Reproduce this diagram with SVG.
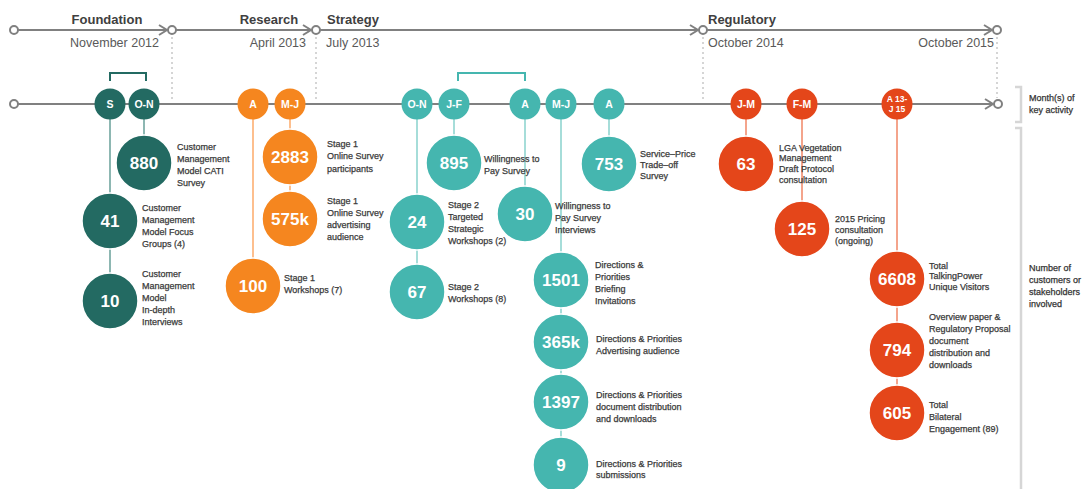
<svg xmlns="http://www.w3.org/2000/svg" width="1083" height="489" viewBox="0 0 1083 489">
  <style>
    text { font-family: "Liberation Sans", Arial, sans-serif; }
    .phase { font-size: 13px; font-weight: bold; fill: #404040; }
    .date { font-size: 12.5px; fill: #595959; }
    .side { font-size: 9px; fill: #333; stroke: #333; stroke-width: 0.25; }
    .lbl { font-size: 9px; fill: #3a3a3a; stroke: #3a3a3a; stroke-width: 0.25; }
    .num { font-size: 17px; font-weight: bold; fill: #fff; text-anchor: middle; }
    .mon { font-size: 10.5px; font-weight: bold; fill: #fff; text-anchor: middle; }
    .axis { stroke: #808080; stroke-width: 2; fill: none; }
    .end { fill: #fff; stroke: #808080; stroke-width: 2; }
    .dots { stroke: #c8c8c8; stroke-width: 1.5; stroke-dasharray: 2 3; fill: none; }
    .brace { stroke: #d6d6d6; stroke-width: 2.5; fill: none; }
    .stem { stroke-width: 2; fill: none; }
    .c-dark { fill: #236a62; }
    .c-orange { fill: #f5861f; }
    .c-teal { fill: #45b6af; }
    .c-red { fill: #e4461a; }
    .big { stroke: #fff; stroke-width: 1.5; }
  </style>
  <defs>
    <marker id="chev" markerUnits="userSpaceOnUse" markerWidth="12" markerHeight="12" refX="9" refY="6" orient="auto">
      <path d="M1,1 L9,6 L1,11" fill="none" stroke="#808080" stroke-width="2"/>
    </marker>
  </defs>

  <rect width="1083" height="489" fill="#fff"/>

  <!-- phase timeline -->
  <g id="phases">
    <line class="axis" x1="18" y1="30" x2="167" y2="30" marker-end="url(#chev)"/>
    <line class="axis" x1="176" y1="30" x2="311" y2="30" marker-end="url(#chev)"/>
    <line class="axis" x1="320" y1="30" x2="698" y2="30" marker-end="url(#chev)"/>
    <line class="axis" x1="707" y1="30" x2="992" y2="30" marker-end="url(#chev)"/>
    <circle class="end" cx="14" cy="30" r="4"/>
    <circle class="end" cx="172" cy="30" r="4"/>
    <circle class="end" cx="316" cy="30" r="4"/>
    <circle class="end" cx="703" cy="30" r="4"/>
    <circle class="end" cx="997" cy="30" r="4"/>
    <line class="dots" x1="172" y1="37" x2="172" y2="102"/>
    <line class="dots" x1="316" y1="37" x2="316" y2="102"/>
    <line class="dots" x1="703" y1="37" x2="703" y2="102"/>
    <line class="dots" x1="997" y1="37" x2="997" y2="98"/>
    <text class="phase" x="107" y="24" text-anchor="middle">Foundation</text>
    <text class="phase" x="269" y="24" text-anchor="middle">Research</text>
    <text class="phase" x="327" y="24">Strategy</text>
    <text class="phase" x="708" y="24">Regulatory</text>
    <text class="date" x="159" y="47" text-anchor="end">November 2012</text>
    <text class="date" x="306" y="47" text-anchor="end">April 2013</text>
    <text class="date" x="326" y="47">July 2013</text>
    <text class="date" x="708" y="47">October 2014</text>
    <text class="date" x="994" y="47" text-anchor="end">October 2015</text>
  </g>

  <!-- activity timeline -->
  <g id="activity-axis">
    <line class="axis" x1="18" y1="104" x2="993" y2="104" marker-end="url(#chev)"/>
    <circle class="end" cx="14" cy="104" r="4"/>
    <circle class="end" cx="998" cy="104" r="4"/>
  </g>

  <!-- side legend -->
  <g id="legend">
    <path class="brace" d="M1015,87 H1021 V122 H1015"/>
    <path class="brace" d="M1015,128 H1021 V489"/>
    <text class="side" x="1029" y="101">Month(s) of</text>
    <text class="side" x="1029" y="113">key activity</text>
    <text class="side" x="1029" y="270.5">Number of</text>
    <text class="side" x="1029" y="282.5">customers or</text>
    <text class="side" x="1029" y="295">stakeholders</text>
    <text class="side" x="1029" y="306.5">involved</text>
  </g>

  <!-- connectors: stems and grouping brackets -->
  <g id="connectors">
    <line class="stem" stroke="#8db7b2" x1="110" y1="104" x2="110" y2="301"/>
    <line class="stem" stroke="#8db7b2" x1="144" y1="104" x2="144" y2="163"/>
    <line class="stem" stroke="#fdbf8e" x1="253" y1="104" x2="253" y2="286"/>
    <line class="stem" stroke="#fdbf8e" x1="290" y1="104" x2="290" y2="219"/>
    <line class="stem" stroke="#a6ddd9" x1="417" y1="104" x2="417" y2="292"/>
    <line class="stem" stroke="#a6ddd9" x1="454" y1="104" x2="454" y2="163"/>
    <line class="stem" stroke="#a6ddd9" x1="525" y1="104" x2="525" y2="214"/>
    <line class="stem" stroke="#a6ddd9" x1="561" y1="104" x2="561" y2="465"/>
    <line class="stem" stroke="#a6ddd9" x1="609" y1="104" x2="609" y2="164"/>
    <line class="stem" stroke="#f4a48c" x1="746" y1="104" x2="746" y2="164"/>
    <line class="stem" stroke="#f4a48c" x1="802" y1="104" x2="802" y2="229"/>
    <line class="stem" stroke="#f4a48c" x1="897" y1="104" x2="897" y2="413"/>
    <path d="M110,81 V73 H146 V81" fill="none" stroke="#236a62" stroke-width="2"/>
    <path d="M458,81 V73 H525 V81" fill="none" stroke="#45b6af" stroke-width="2"/>
  </g>

  <!-- month markers -->
  <g id="m-s"><circle class="c-dark" cx="110" cy="104" r="15.5"/><text class="mon" x="110" y="108">S</text></g>
  <g id="m-on-2012"><circle class="c-dark" cx="144" cy="104" r="15.5"/><text class="mon" x="144" y="108">O-N</text></g>
  <g id="m-a-2013"><circle class="c-orange" cx="253" cy="104" r="15.5"/><text class="mon" x="253" y="108">A</text></g>
  <g id="m-mj-2013"><circle class="c-orange" cx="290" cy="104" r="15.5"/><text class="mon" x="290" y="108">M-J</text></g>
  <g id="m-on-2013"><circle class="c-teal" cx="417" cy="104" r="15.5"/><text class="mon" x="417" y="108">O-N</text></g>
  <g id="m-jf-2014"><circle class="c-teal" cx="454" cy="104" r="15.5"/><text class="mon" x="454" y="108">J-F</text></g>
  <g id="m-a-2014"><circle class="c-teal" cx="525" cy="104" r="15.5"/><text class="mon" x="525" y="108">A</text></g>
  <g id="m-mj-2014"><circle class="c-teal" cx="561" cy="104" r="15.5"/><text class="mon" x="561" y="108">M-J</text></g>
  <g id="m-a2-2014"><circle class="c-teal" cx="609" cy="104" r="15.5"/><text class="mon" x="609" y="108">A</text></g>
  <g id="m-jm-2015"><circle class="c-red" cx="746" cy="104" r="15.5"/><text class="mon" x="746" y="108">J-M</text></g>
  <g id="m-fm-2015"><circle class="c-red" cx="802" cy="104" r="15.5"/><text class="mon" x="802" y="108">F-M</text></g>
  <g id="m-a13-j15"><circle class="c-red" cx="897" cy="104" r="15.5"/><text class="mon" x="897" y="102" style="font-size:8.5px">A 13-</text><text class="mon" x="897" y="112" style="font-size:8.5px">J 15</text></g>

  <!-- engagement counts -->
  <g id="n-880">
    <circle class="c-dark big" cx="144" cy="163" r="28"/><text class="num" x="144" y="169">880</text>
    <text class="lbl" x="177" y="149.5"><tspan x="177">Customer</tspan><tspan x="177" dy="12">Management</tspan><tspan x="177" dy="12">Model CATI</tspan><tspan x="177" dy="12">Survey</tspan></text>
  </g>
  <g id="n-41">
    <circle class="c-dark big" cx="110" cy="221" r="28"/><text class="num" x="110" y="227">41</text>
    <text class="lbl" x="142" y="210.5"><tspan x="142">Customer</tspan><tspan x="142" dy="12">Management</tspan><tspan x="142" dy="12">Model Focus</tspan><tspan x="142" dy="12">Groups (4)</tspan></text>
  </g>
  <g id="n-10">
    <circle class="c-dark big" cx="110" cy="301" r="28"/><text class="num" x="110" y="307">10</text>
    <text class="lbl" x="142" y="276.5"><tspan x="142">Customer</tspan><tspan x="142" dy="12">Management</tspan><tspan x="142" dy="12">Model</tspan><tspan x="142" dy="12">In-depth</tspan><tspan x="142" dy="12">Interviews</tspan></text>
  </g>
  <g id="n-2883">
    <circle class="c-orange big" cx="290" cy="157" r="28"/><text class="num" x="290" y="163">2883</text>
    <text class="lbl" x="327" y="146.5"><tspan x="327">Stage 1</tspan><tspan x="327" dy="12.5">Online Survey</tspan><tspan x="327" dy="12.5">participants</tspan></text>
  </g>
  <g id="n-575k">
    <circle class="c-orange big" cx="290" cy="219" r="28"/><text class="num" x="290" y="225">575k</text>
    <text class="lbl" x="327" y="203.5"><tspan x="327">Stage 1</tspan><tspan x="327" dy="12">Online Survey</tspan><tspan x="327" dy="12">advertising</tspan><tspan x="327" dy="12">audience</tspan></text>
  </g>
  <g id="n-100">
    <circle class="c-orange big" cx="253" cy="286" r="28"/><text class="num" x="253" y="292">100</text>
    <text class="lbl" x="284" y="280.5"><tspan x="284">Stage 1</tspan><tspan x="284" dy="12">Workshops (7)</tspan></text>
  </g>
  <g id="n-895">
    <circle class="c-teal big" cx="454" cy="163" r="28"/><text class="num" x="454" y="169">895</text>
    <text class="lbl" x="484" y="161.5"><tspan x="484">Willingness to</tspan><tspan x="484" dy="12">Pay Survey</tspan></text>
  </g>
  <g id="n-24">
    <circle class="c-teal big" cx="417" cy="222" r="28"/><text class="num" x="417" y="228">24</text>
    <text class="lbl" x="448" y="207.5"><tspan x="448">Stage 2</tspan><tspan x="448" dy="12">Targeted</tspan><tspan x="448" dy="12">Strategic</tspan><tspan x="448" dy="12">Workshops (2)</tspan></text>
  </g>
  <g id="n-67">
    <circle class="c-teal big" cx="417" cy="292" r="28"/><text class="num" x="417" y="298">67</text>
    <text class="lbl" x="448" y="289.5"><tspan x="448">Stage 2</tspan><tspan x="448" dy="12">Workshops (8)</tspan></text>
  </g>
  <g id="n-30">
    <circle class="c-teal big" cx="525" cy="214" r="28"/><text class="num" x="525" y="220">30</text>
    <text class="lbl" x="555" y="208.5"><tspan x="555">Willingness to</tspan><tspan x="555" dy="12">Pay Survey</tspan><tspan x="555" dy="12">Interviews</tspan></text>
  </g>
  <g id="n-753">
    <circle class="c-teal big" cx="609" cy="164" r="28"/><text class="num" x="609" y="170">753</text>
    <text class="lbl" x="640" y="156.5"><tspan x="640">Service–Price</tspan><tspan x="640" dy="11">Trade–off</tspan><tspan x="640" dy="11">Survey</tspan></text>
  </g>
  <g id="n-1501">
    <circle class="c-teal big" cx="561" cy="280" r="28"/><text class="num" x="561" y="286">1501</text>
    <text class="lbl" x="595" y="267.5"><tspan x="595">Directions &amp;</tspan><tspan x="595" dy="12">Priorities</tspan><tspan x="595" dy="12">Briefing</tspan><tspan x="595" dy="12">Invitations</tspan></text>
  </g>
  <g id="n-365k">
    <circle class="c-teal big" cx="561" cy="342" r="28"/><text class="num" x="561" y="348">365k</text>
    <text class="lbl" x="596" y="341.5"><tspan x="596">Directions &amp; Priorities</tspan><tspan x="596" dy="12">Advertising audience</tspan></text>
  </g>
  <g id="n-1397">
    <circle class="c-teal big" cx="561" cy="402" r="28"/><text class="num" x="561" y="408">1397</text>
    <text class="lbl" x="596" y="397.5"><tspan x="596">Directions &amp; Priorities</tspan><tspan x="596" dy="12">document distribution</tspan><tspan x="596" dy="12">and downloads</tspan></text>
  </g>
  <g id="n-9">
    <circle class="c-teal big" cx="561" cy="465" r="28"/><text class="num" x="561" y="471">9</text>
    <text class="lbl" x="596" y="466.5"><tspan x="596">Directions &amp; Priorities</tspan><tspan x="596" dy="11.5">submissions</tspan></text>
  </g>
  <g id="n-63">
    <circle class="c-red big" cx="746" cy="164" r="28"/><text class="num" x="746" y="170">63</text>
    <text class="lbl" x="779" y="150.5"><tspan x="779">LGA Vegetation</tspan><tspan x="779" dy="10.7">Management</tspan><tspan x="779" dy="10.7">Draft Protocol</tspan><tspan x="779" dy="10.7">consultation</tspan></text>
  </g>
  <g id="n-125">
    <circle class="c-red big" cx="802" cy="229" r="28"/><text class="num" x="802" y="235">125</text>
    <text class="lbl" x="835" y="221.5"><tspan x="835">2015 Pricing</tspan><tspan x="835" dy="11">consultation</tspan><tspan x="835" dy="11">(ongoing)</tspan></text>
  </g>
  <g id="n-6608">
    <circle class="c-red big" cx="897" cy="279" r="28"/><text class="num" x="897" y="285">6608</text>
    <text class="lbl" x="929" y="268.5"><tspan x="929">Total</tspan><tspan x="929" dy="10.5">TalkingPower</tspan><tspan x="929" dy="10.5">Unique Visitors</tspan></text>
  </g>
  <g id="n-794">
    <circle class="c-red big" cx="897" cy="350" r="28"/><text class="num" x="897" y="356">794</text>
    <text class="lbl" x="929" y="319.5"><tspan x="929">Overview paper &amp;</tspan><tspan x="929" dy="12">Regulatory Proposal</tspan><tspan x="929" dy="12">document</tspan><tspan x="929" dy="12">distribution and</tspan><tspan x="929" dy="12">downloads</tspan></text>
  </g>
  <g id="n-605">
    <circle class="c-red big" cx="897" cy="413" r="28"/><text class="num" x="897" y="419">605</text>
    <text class="lbl" x="929" y="407.5"><tspan x="929">Total</tspan><tspan x="929" dy="12">Bilateral</tspan><tspan x="929" dy="12">Engagement (89)</tspan></text>
  </g>
</svg>
